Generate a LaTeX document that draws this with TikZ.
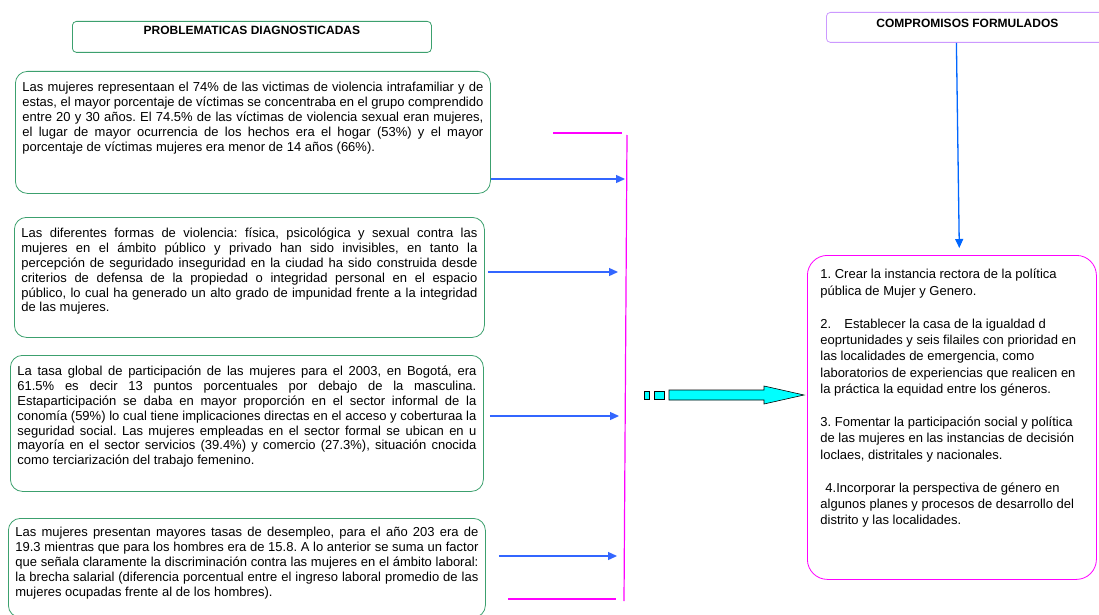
\documentclass[tikz,border=0pt]{standalone}
\usepackage{fontspec}
\setmainfont{Liberation Sans}
\usetikzlibrary{arrows.meta}
\definecolor{verdecaja}{RGB}{60,160,110}
\definecolor{lilatitulo}{RGB}{204,153,255}
\definecolor{azulflecha}{RGB}{51,102,255}
\definecolor{azulbajada}{RGB}{0,102,255}
\definecolor{magentalinea}{RGB}{255,0,255}
\definecolor{cianflecha}{RGB}{0,255,255}
\frenchspacing
\newcommand{\lj}[1]{\makebox[\linewidth][s]{#1}\par}
\newcommand{\cajatxt}[3]{\parbox[c][#2][t]{#1}{\lineskiplimit=-20pt #3}}
\begin{document}
\begin{tikzpicture}[x=1pt,y=-1pt,
problema/.style={draw=verdecaja,line width=0.8pt,rounded corners=12pt,anchor=north west,inner xsep=7pt,inner ysep=6pt,font=\fontsize{13}{14.8}\selectfont},
titulo/.style={line width=0.8pt,rounded corners=4pt,anchor=north west,inner sep=0pt,font=\bfseries\fontsize{12}{14}\selectfont},
compromiso/.style={draw=magentalinea,line width=0.8pt,rounded corners=20pt,anchor=north west,inner xsep=13pt,inner ysep=14pt,font=\fontsize{13}{16.4}\selectfont},
flecha/.style={azulflecha,line width=1.3pt,-{Triangle[length=9pt,width=8pt]}},
barra/.style={magentalinea,line width=1.2pt},
bloque/.style={fill=cianflecha,draw=black,line width=0.6pt}]
\fill[white] (0,0) rectangle (1099,615);
\useasboundingbox (0,0) rectangle (1099,615);
\node[titulo,draw=verdecaja] (titprob) at (72,21) {\cajatxt{359pt}{31pt}{\centering\vspace*{4.5pt}PROBLEMATICAS DIAGNOSTICADAS}};
\node[titulo,draw=lilatitulo] (titcomp) at (826,12) {\cajatxt{282pt}{30pt}{\centering\vspace*{7pt}COMPROMISOS FORMULADOS}};
\node[problema] (prob1) at (15,71) {\cajatxt{461pt}{110pt}{\vspace*{5pt}%
\lj{Las mujeres representaan el 74\% de las victimas de violencia intrafamiliar y de}
\lj{estas, el mayor porcentaje de víctimas se concentraba en el grupo comprendido}
\lj{entre 20 y 30 años. El 74.5\% de las víctimas de violencia sexual eran mujeres,}
\lj{el lugar de mayor ocurrencia de los hechos era el hogar (53\%) y el mayor}
porcentaje de víctimas mujeres era menor de 14 años (66\%).}};
\node[problema] (prob2) at (14,217) {\cajatxt{456pt}{108pt}{\vspace*{5pt}%
\lj{Las diferentes formas de violencia: física, psicológica y sexual contra las}
\lj{mujeres en el ámbito público y privado han sido invisibles, en tanto la}
\lj{percepción de seguridado inseguridad en la ciudad ha sido construida desde}
\lj{criterios de defensa de la propiedad o integridad personal en el espacio}
\lj{público, lo cual ha generado un alto grado de impunidad frente a la integridad}
de las mujeres.}};
\node[problema] (prob3) at (10,355) {\cajatxt{459pt}{124pt}{\vspace*{5pt}%
\lj{La tasa global de participación de las mujeres para el 2003, en Bogotá, era}
\lj{61.5\% es decir 13 puntos porcentuales por debajo de la masculina.}
\lj{Estaparticipación se daba en mayor proporción en el sector informal de la}
\lj{conomía (59\%) lo cual tiene implicaciones directas en el acceso y coberturaa la}
\lj{seguridad social. Las mujeres empleadas en el sector formal se ubican en u}
\lj{mayoría en el sector servicios (39.4\%) y comercio (27.3\%), situación cnocida}
como terciarización del trabajo femenino.}};
\node[problema] (prob4) at (8,518) {\cajatxt{463pt}{87pt}{\vspace*{3pt}%
\lj{Las mujeres presentan mayores tasas de desempleo, para el año 203 era de}
\lj{19.3 mientras que para los hombres era de 15.8. A lo anterior se suma un factor}
\lj{que señala claramente la discriminación contra las mujeres en el ámbito laboral:}
\lj{la brecha salarial (diferencia porcentual entre el ingreso laboral promedio de las}
mujeres ocupadas frente al de los hombres).}};
\node[compromiso] (comp) at (807,255) {\cajatxt{263pt}{296pt}{\raggedright
1. Crear la instancia rectora de la política\\
pública de Mujer y Genero.\\[16.4pt]
2.\hspace*{9.5pt} Establecer la casa de la igualdad d\\
eoprtunidades y seis filailes con prioridad en\\
las localidades de emergencia, como\\
laboratorios de experiencias que realicen en\\
la práctica la equidad entre los géneros.\\[16.4pt]
3. Fomentar la participación social y política\\
de las mujeres en las instancias de decisión\\
loclaes, distritales y nacionales.\\[16.4pt]
\hspace*{5pt}4.Incorporar la perspectiva de género en\\
algunos planes y procesos de desarrollo del\\
distrito y las localidades.}};
\coordinate (barraArriba) at (627,135);
\coordinate (barraAbajo) at (624,601);
\draw[barra] (553,133) -- (622,133);
\draw[barra] (barraArriba) -- (barraAbajo);
\draw[barra] (508,599) -- (616,599);
\coordinate (b1) at (625,179);
\coordinate (b2) at (618,272);
\coordinate (b3) at (619,416);
\coordinate (b4) at (617,556);
\draw[flecha] (prob1.east |- b1) -- (b1);
\draw[flecha,shorten <=3pt] (prob2.east |- b2) -- (b2);
\draw[flecha,shorten <=6pt] (prob3.east |- b3) -- (b3);
\draw[flecha,shorten <=13pt] (prob4.east |- b4) -- (b4);
\draw[azulbajada,line width=1.3pt,-{Triangle[length=9pt,width=8pt]},shorten >=7pt] ([xshift=-11pt]titcomp.south) -- ([xshift=7.5pt]comp.north);
\draw[bloque] (644,391) rectangle (649,399);
\draw[bloque] (654,391) rectangle (664,399);
\draw[bloque] (669,390) -- (764,390) -- (764,386) -- (804,395) -- (764,404) -- (764,400) -- (669,400) -- cycle;
\end{tikzpicture}
\end{document}
